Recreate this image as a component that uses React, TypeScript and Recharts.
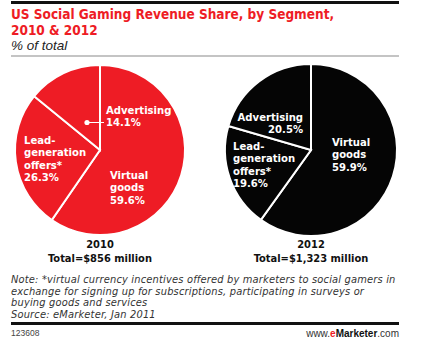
import React from "react";
import { PieChart, Pie, Cell } from "recharts";

// ---- data ----
const segments = ["Virtual goods", "Lead-generation offers*", "Advertising"];
const segmentLabelLines = [["Virtual", "goods"], ["Lead-", "generation", "offers*"], ["Advertising"]];
const share2010 = [59.6, 26.3, 14.1];
const share2012 = [59.9, 19.6, 20.5];
const years = ["2010", "2012"];
const totals = ["Total=$856 million", "Total=$1,323 million"];
const title = ["US Social Gaming Revenue Share, by Segment,", "2010 & 2012"];
const subtitle = "% of total";
const noteLines = [
  "Note: *virtual currency incentives offered by marketers to social gamers in",
  "exchange for signing up for subscriptions, participating in surveys or",
  "buying goods and services",
  "Source: eMarketer, Jan 2011",
];
const chartId = "123608";

// ---- layout / style ----
const RED = "#ee1c25";
const W = 446;
const H = 351;
const COND = "'DejaVu Sans Condensed', 'DejaVu Sans', sans-serif";
const SANS = "'Liberation Sans', Arial, sans-serif";
const pies = [
  { cx: 100, cy: 150, r: 85, fill: RED },
  { cx: 311, cy: 150, r: 86, fill: "#050505" },
];
// label placement relative to pie centre, per segment index
const labelLayout = [
  [
    { dx: 10, dy: 25, anchor: "start" },
    { dx: -76, dy: -10, anchor: "start" },
    { dx: 6, dy: -40, anchor: "start", dot: true },
  ],
  [
    { dx: 21, dy: -8, anchor: "start" },
    { dx: -78, dy: -4, anchor: "start" },
    { dx: -8, dy: -33, anchor: "end" },
  ],
];
const LH = 12.5;

const makeData = (vals: number[]) =>
  segments.map((name, i) => ({ name, value: vals[i], idx: i }));

const makeLabel = (pieIdx: number) => (props: any) => {
  const { cx, cy, payload, value, index } = props;
  const i = payload && payload.idx !== undefined ? payload.idx : index;
  const lay = labelLayout[pieIdx][i];
  const lines = [...segmentLabelLines[i], `${Number(value).toFixed(1)}%`];
  const x = cx + lay.dx;
  const y0 = cy + lay.dy;
  return (
    <g key={`lbl-${pieIdx}-${i}`}>
      {lay.dot && (
        <g>
          <line x1={x - 19} y1={y0 + LH} x2={x - 2} y2={y0 + LH} stroke="#fff" strokeWidth={1} />
          <circle cx={x - 19} cy={y0 + LH} r={2.6} fill="#fff" />
        </g>
      )}
      {lines.map((t, k) => (
        <text
          key={k}
          x={x}
          y={y0 + k * LH}
          fill="#fff"
          textAnchor={lay.anchor}
          dominantBaseline="central"
          fontFamily={COND}
          fontWeight="bold"
          fontSize={11.2}
        >
          {t}
        </text>
      ))}
    </g>
  );
};

export default function App() {
  const datasets = [makeData(share2010), makeData(share2012)];
  return (
    <div style={{ position: "absolute", left: 0, top: 0, width: W, height: H, background: "#fff" }}>
      <svg width={W} height={H} style={{ position: "absolute", left: 0, top: 0 }}>
        <rect x={11} y={1} width={388} height={3} fill="#111" />
        <text x={11} y={13.5} dominantBaseline="central" fill={RED} fontFamily={COND} fontWeight="bold" fontSize={13.5}>
          {title[0]}
        </text>
        <text x={11} y={30} dominantBaseline="central" fill={RED} fontFamily={COND} fontWeight="bold" fontSize={13.5}>
          {title[1]}
        </text>
        <text x={11} y={45} dominantBaseline="central" fill="#222" fontFamily={SANS} fontStyle="italic" fontSize={13.5}>
          {subtitle}
        </text>
        <rect x={11} y={55} width={388} height={2} fill="#c4c4c4" />
        {pies.map((p, i) => (
          <g key={i}>
            <text x={p.cx} y={244} textAnchor="middle" dominantBaseline="central" fill="#111" fontFamily={COND} fontWeight="bold" fontSize={11}>
              {years[i]}
            </text>
            <text x={p.cx} y={258} textAnchor="middle" dominantBaseline="central" fill="#111" fontFamily={COND} fontWeight="bold" fontSize={11}>
              {totals[i]}
            </text>
          </g>
        ))}
        {noteLines.map((t, k) => (
          <text key={k} x={11} y={279.5 + k * 11.6} dominantBaseline="central" fill="#333" fontFamily="'DejaVu Sans', sans-serif" fontStyle="italic" fontSize={9.9} letterSpacing={0.18}>
            {t}
          </text>
        ))}
        <rect x={11} y={322} width={388} height={3} fill="#111" />
        <text x={11} y={333} dominantBaseline="central" fill="#444" fontFamily={SANS} fontSize={8.5}>
          {chartId}
        </text>
        <text x={399} y={333} textAnchor="end" dominantBaseline="central" fill="#333" fontFamily={SANS} fontSize={10}>
          www.<tspan fill={RED} fontWeight="bold">e</tspan>
          <tspan fontWeight="bold" fill="#111">Marketer</tspan>.com
        </text>
      </svg>
      <div style={{ position: "absolute", left: 0, top: 0 }}>
        <PieChart width={W} height={H} margin={{ top: 0, right: 0, bottom: 0, left: 0 }}>
          {pies.map((p, pi) => (
            <Pie
              key={pi}
              data={datasets[pi]}
              dataKey="value"
              nameKey="name"
              cx={p.cx}
              cy={p.cy}
              outerRadius={p.r}
              innerRadius={0}
              startAngle={90}
              endAngle={-270}
              stroke="#fff"
              strokeWidth={2}
              label={makeLabel(pi)}
              labelLine={false}
              isAnimationActive={false}
            >
              {datasets[pi].map((d, k) => (
                <Cell key={k} fill={p.fill} />
              ))}
            </Pie>
          ))}
        </PieChart>
      </div>
    </div>
  );
}
